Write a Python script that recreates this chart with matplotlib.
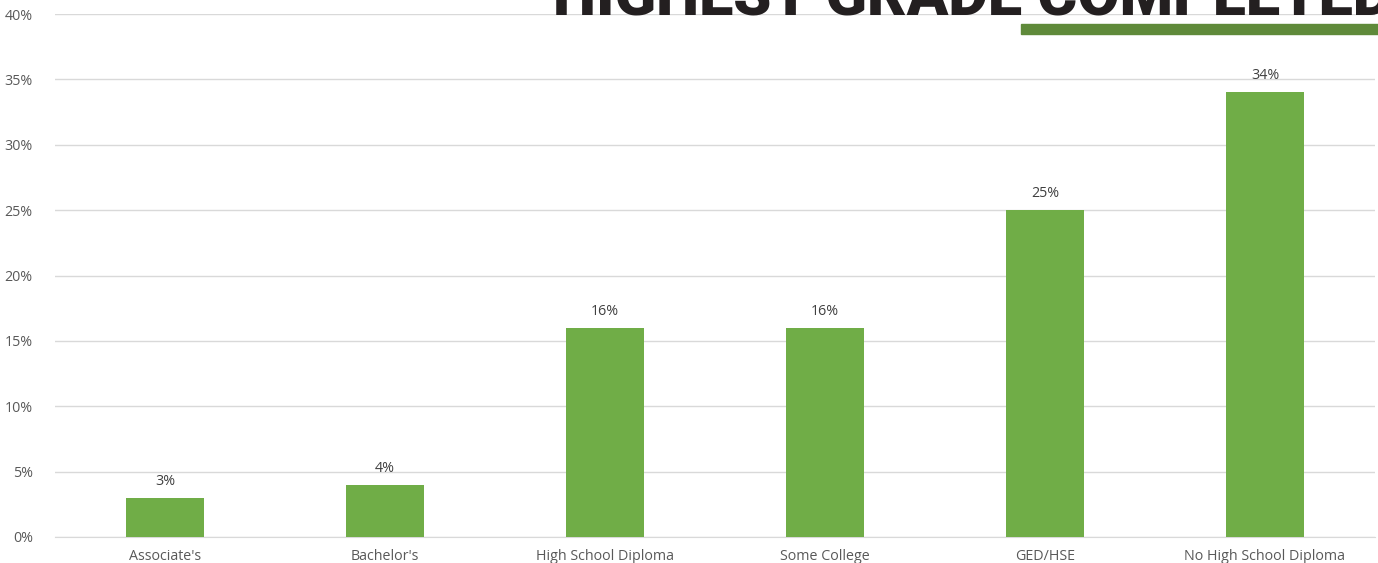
import matplotlib
matplotlib.use("Agg")
import matplotlib.pyplot as plt

categories = ["Associate's", "Bachelor's", "High School Diploma", "Some College", "GED/HSE", "No High School Diploma"]
values = [3, 4, 16, 16, 25, 34]
yticks = [0, 5, 10, 15, 20, 25, 30, 35, 40]
title = "HIGHEST GRADE COMPLETED"

plt.rcParams['font.family'] = ['Open Sans', 'DejaVu Sans']

W, H = 1378, 563
fig = plt.figure(figsize=(W/100, H/100), dpi=100)
ax = fig.add_axes([55/W, 26/H, 1320/W, 523/H])

x = range(len(categories))
ax.bar(x, values, width=0.355, color='#70AD47', zorder=3)
for i, v in enumerate(values):
    ax.text(i, v + 0.7, f"{v}%", ha='center', va='bottom', fontsize=10.3, color='#404040', zorder=4)

ax.set_xlim(-0.5, len(categories) - 0.5)
ax.set_ylim(0, 40)
ax.set_yticks(yticks)
ax.set_yticklabels([f"{t}%" for t in yticks], fontsize=10.3, color='#595959')
ax.set_xticks(list(x))
ax.set_xticklabels(categories, fontsize=10.3, color='#595959')
ax.tick_params(length=0)
ax.tick_params(axis='x', pad=9)
ax.tick_params(axis='y', pad=16)
ax.grid(axis='y', color='#D9D9D9', linewidth=1, zorder=0)
for s in ['top', 'right', 'left']:
    ax.spines[s].set_visible(False)
ax.spines['bottom'].set_color('#D9D9D9')

fig.text(553/W, (H-15)/H, title, fontsize=44, fontweight=900, family=['Roboto', 'DejaVu Sans'],
         color='#231F20', ha='left', va='baseline')
fig.patches.append(matplotlib.patches.Rectangle((1021/W, (H-34)/H), (W-1021)/W, 10/H,
                                                transform=fig.transFigure, color='#5F8A3A'))

fig.savefig("out.png", dpi=100)
